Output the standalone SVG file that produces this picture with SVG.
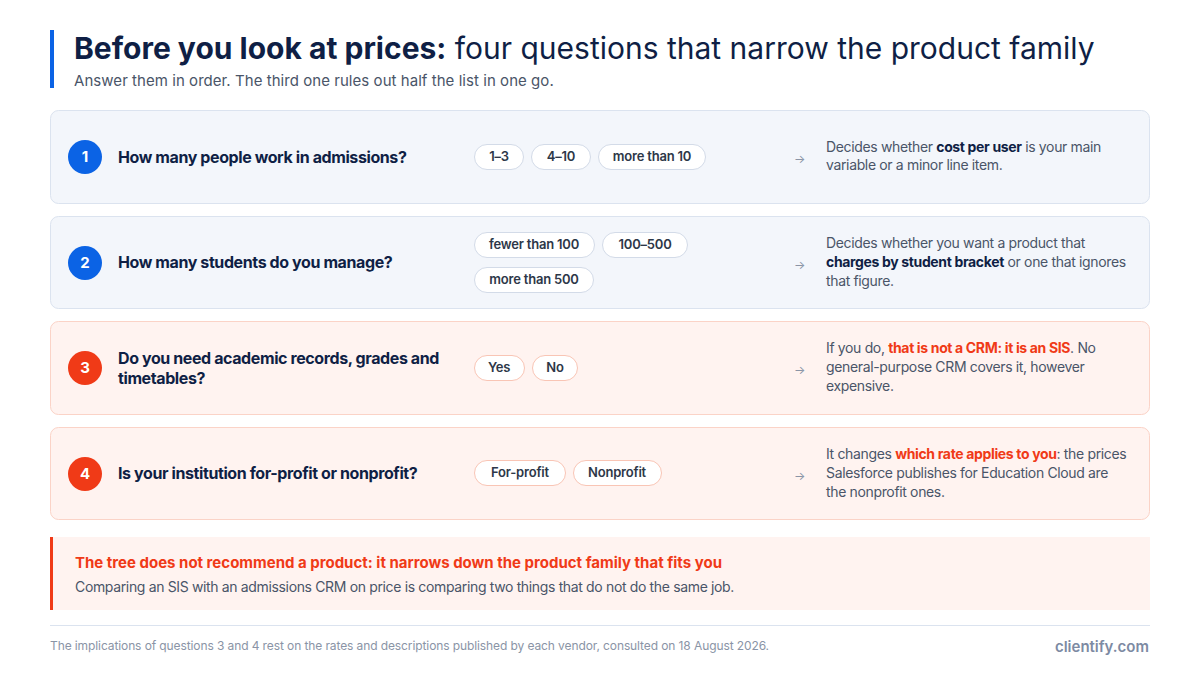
<svg xmlns="http://www.w3.org/2000/svg" width="1200" height="675" viewBox="0 0 1200 675">
<style>
text{font-family:Inter,"Noto Sans","Liberation Sans",sans-serif}
.title{font-size:30px;fill:#0f1f45;letter-spacing:0px}
.sub{font-size:15px;fill:#4a5568;letter-spacing:0.05px}
.cardb{fill:#f3f6fb;stroke:#dbe3ef;stroke-width:1}
.cardo{fill:#fff3f0;stroke:#fbd3c7;stroke-width:1}
.nb{fill:#0b63e5}.no{fill:#f03a17}
.num{font-size:15px;font-weight:700;fill:#fff;text-anchor:middle}
.q{font-size:16px;font-weight:700;fill:#0f1f45;letter-spacing:-0.4px}
.pill{fill:#fff;stroke:#d3dbe8}
.pillo{fill:#fff;stroke:#f9c5b5}
.pt{font-size:13px;font-weight:600;fill:#2d3748;text-anchor:middle;letter-spacing:-0.2px}
.arr{font-size:12px;fill:#8a94a6}
.d{font-size:14px;fill:#4a5568;letter-spacing:-0.35px}
.bn{font-weight:700;fill:#0f1f45}
.bo{font-weight:700;fill:#f03a17}
.foot{font-size:12px;fill:#8a94a6;letter-spacing:-0.1px}
</style>
<rect width="1200" height="675" fill="#fff"/>
<g id="header">
<rect x="50" y="30" width="4" height="58" fill="#0b63e5"/>
<text class="title" x="74" y="59"><tspan font-weight="700">Before you look at prices:</tspan> four questions that narrow the product family</text>
<text class="sub" x="74" y="86">Answer them in order. The third one rules out half the list in one go.</text>
</g>
<g id="q1">
<rect class="cardb" x="50.5" y="110.5" width="1099" height="93" rx="8"/>
<circle class="nb" cx="85" cy="157" r="17"/>
<text class="num" x="85" y="162">1</text>
<text class="q" x="118" y="163">How many people work in admissions?</text>
<rect class="pill" x="474.5" y="144.5" width="49" height="25" rx="12.5"/><text class="pt" x="499" y="161">1–3</text>
<rect class="pill" x="531.5" y="144.5" width="59" height="25" rx="12.5"/><text class="pt" x="561" y="161">4–10</text>
<rect class="pill" x="598.5" y="144.5" width="107" height="25" rx="12.5"/><text class="pt" x="652" y="161">more than 10</text>
<text class="arr" x="794" y="163">→</text>
<text class="d" x="826" y="152">Decides whether <tspan class="bn">cost per user</tspan> is your main</text>
<text class="d" x="826" y="170">variable or a minor line item.</text>
</g>
<g id="q2">
<rect class="cardb" x="50.5" y="216.5" width="1099" height="92" rx="8"/>
<circle class="nb" cx="85" cy="263" r="17"/>
<text class="num" x="85" y="268">2</text>
<text class="q" x="118" y="268">How many students do you manage?</text>
<rect class="pill" x="474.5" y="232.5" width="120" height="25" rx="12.5"/><text class="pt" x="534" y="249">fewer than 100</text>
<rect class="pill" x="602.5" y="232.5" width="85" height="25" rx="12.5"/><text class="pt" x="645" y="249">100–500</text>
<rect class="pill" x="474.5" y="267.5" width="119" height="25" rx="12.5"/><text class="pt" x="534" y="284">more than 500</text>
<text class="arr" x="794" y="269">→</text>
<text class="d" x="826" y="248">Decides whether you want a product that</text>
<text class="d" x="826" y="267"><tspan class="bn">charges by student bracket</tspan> or one that ignores</text>
<text class="d" x="826" y="286">that figure.</text>
</g>
<g id="q3">
<rect class="cardo" x="50.5" y="321.5" width="1099" height="93" rx="8"/>
<circle class="no" cx="85" cy="368" r="17"/>
<text class="num" x="85" y="373">3</text>
<text class="q" x="118" y="364">Do you need academic records, grades and</text>
<text class="q" x="118" y="384">timetables?</text>
<rect class="pillo" x="474.5" y="355.5" width="50" height="25" rx="12.5"/><text class="pt" x="499" y="372">Yes</text>
<rect class="pillo" x="532.5" y="355.5" width="45" height="25" rx="12.5"/><text class="pt" x="555" y="372">No</text>
<text class="arr" x="794" y="374">→</text>
<text class="d" x="826" y="353">If you do, <tspan class="bo">that is not a CRM: it is an SIS</tspan>. No</text>
<text class="d" x="826" y="372">general-purpose CRM covers it, however</text>
<text class="d" x="826" y="391">expensive.</text>
</g>
<g id="q4">
<rect class="cardo" x="50.5" y="427.5" width="1099" height="92" rx="8"/>
<circle class="no" cx="85" cy="474" r="17"/>
<text class="num" x="85" y="479">4</text>
<text class="q" x="118" y="479">Is your institution for-profit or nonprofit?</text>
<rect class="pillo" x="474.5" y="460.5" width="91" height="25" rx="12.5"/><text class="pt" x="520" y="477">For-profit</text>
<rect class="pillo" x="573.5" y="460.5" width="88" height="25" rx="12.5"/><text class="pt" x="617" y="477">Nonprofit</text>
<text class="arr" x="794" y="480">→</text>
<text class="d" x="826" y="459">It changes <tspan class="bo">which rate applies to you</tspan>: the prices</text>
<text class="d" x="826" y="478">Salesforce publishes for Education Cloud are</text>
<text class="d" x="826" y="497">the nonprofit ones.</text>
</g>
<g id="callout">
<rect x="50" y="537" width="1100" height="73" fill="#fff3f0"/>
<rect x="50" y="537" width="3" height="73" fill="#f03a17"/>
<text x="75" y="568" font-size="15" font-weight="700" fill="#f03a17" letter-spacing="0">The tree does not recommend a product: it narrows down the product family that fits you</text>
<text class="d" x="75" y="592">Comparing an SIS with an admissions CRM on price is comparing two things that do not do the same job.</text>
</g>
<g id="footer">
<line x1="50" y1="625.5" x2="1150" y2="625.5" stroke="#dbe3ef"/>
<text class="foot" x="50" y="650">The implications of questions 3 and 4 rest on the rates and descriptions published by each vendor, consulted on 18 August 2026.</text>
<text x="1149" y="652" font-size="15" font-weight="600" fill="#7d8aa3" text-anchor="end">clientify.com</text>
</g>
</svg>
